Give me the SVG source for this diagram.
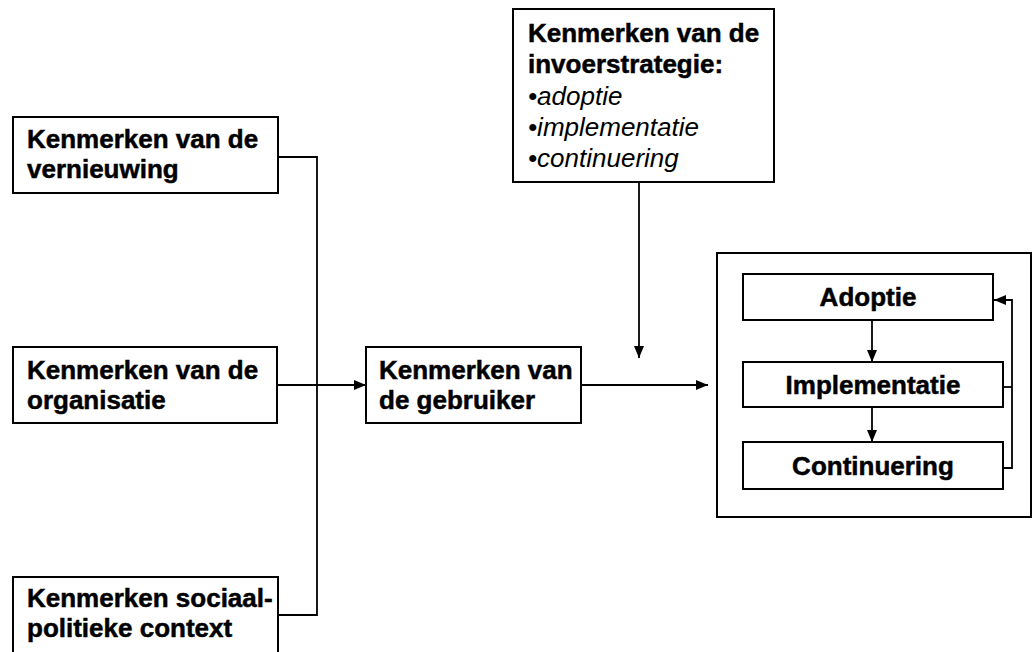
<svg xmlns="http://www.w3.org/2000/svg" width="1034" height="652" viewBox="0 0 1034 652">
<defs>
<style>
.box{fill:#fff;stroke:#000;stroke-width:2}
.t{font-family:"Liberation Sans",Arial,sans-serif;font-weight:bold;font-size:26px;fill:#000;stroke:#000;stroke-width:0.5}
.i{font-weight:normal;font-style:italic;stroke-width:0}
.c{text-anchor:middle}
.ln{fill:none;stroke:#000;stroke-width:1.8}
</style>
<marker id="ah" viewBox="0 0 12 10" refX="12" refY="5" markerWidth="12" markerHeight="10" markerUnits="userSpaceOnUse" orient="auto">
<path d="M0,0 L12,5 L0,10 z" fill="#000"/>
</marker>
</defs>
<rect width="1034" height="652" fill="#fff"/>
<g id="connectors">
<polyline class="ln" points="278,157 317,157 317,615 278,615"/>
<line class="ln" x1="277" y1="385" x2="366" y2="385" marker-end="url(#ah)"/>
<line class="ln" x1="639" y1="182" x2="639" y2="358" marker-end="url(#ah)"/>
<line class="ln" x1="581" y1="385" x2="708" y2="385" marker-end="url(#ah)"/>
</g>
<g id="vernieuwing">
<rect class="box" x="13" y="117" width="265" height="76"/>
<text class="t" x="27" y="148">Kenmerken van de</text>
<text class="t" x="27" y="178">vernieuwing</text>
</g>
<g id="organisatie">
<rect class="box" x="13" y="347" width="264" height="76"/>
<text class="t" x="27" y="379">Kenmerken van de</text>
<text class="t" x="27" y="409">organisatie</text>
</g>
<g id="sociaalpolitiek">
<rect class="box" x="13" y="577" width="265" height="80"/>
<text class="t" x="27" y="607">Kenmerken sociaal-</text>
<text class="t" x="27" y="637">politieke context</text>
</g>
<g id="gebruiker">
<rect class="box" x="366" y="347" width="215" height="76"/>
<text class="t" x="379" y="379">Kenmerken van</text>
<text class="t" x="379" y="409">de gebruiker</text>
</g>
<g id="invoerstrategie">
<rect class="box" x="513" y="9" width="261" height="173"/>
<text class="t" x="528" y="42">Kenmerken van de</text>
<text class="t" x="528" y="73">invoerstrategie:</text>
<text class="t i" x="528" y="105">•adoptie</text>
<text class="t i" x="528" y="136">•implementatie</text>
<text class="t i" x="528" y="167">•continuering</text>
</g>
<g id="fasen">
<rect class="box" x="717" y="253" width="314" height="264"/>
<g id="adoptie">
<rect class="box" x="743" y="274" width="250" height="46"/>
<text class="t c" x="868" y="306">Adoptie</text>
</g>
<g id="implementatie">
<rect class="box" x="743" y="362" width="260" height="45"/>
<text class="t c" x="873" y="394">Implementatie</text>
</g>
<g id="continuering">
<rect class="box" x="743" y="442" width="260" height="47"/>
<text class="t c" x="873" y="475">Continuering</text>
</g>
<g id="fase-connectors">
<line class="ln" x1="872" y1="320" x2="872" y2="362" marker-end="url(#ah)"/>
<line class="ln" x1="872" y1="407" x2="872" y2="442" marker-end="url(#ah)"/>
<line class="ln" x1="1003" y1="387" x2="1012" y2="387"/>
<polyline class="ln" points="1003,468 1012,468 1012,300 994,300" marker-end="url(#ah)"/>
</g>
</g>
</svg>
